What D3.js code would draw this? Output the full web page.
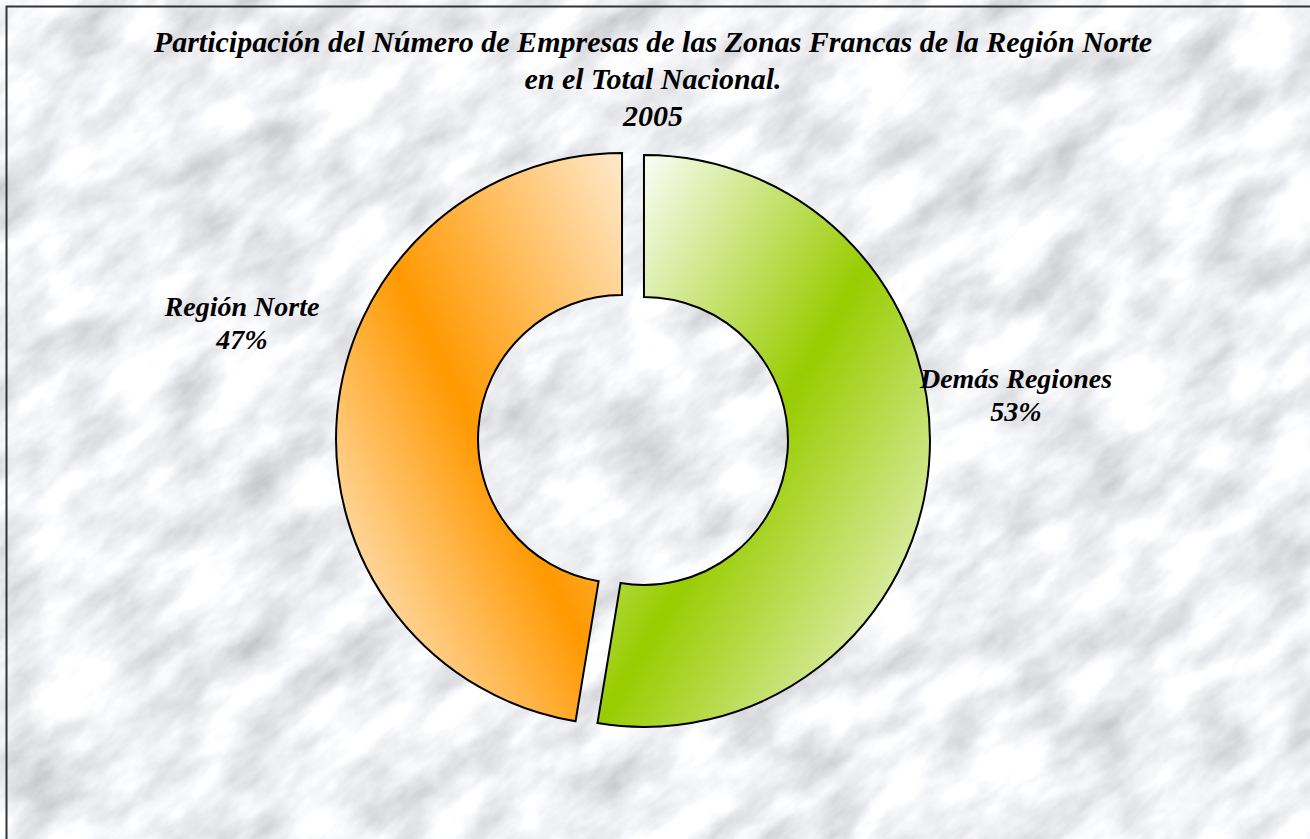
<!DOCTYPE html>
<html><head><meta charset="utf-8">
<script src="https://cdn.jsdelivr.net/npm/d3@7/dist/d3.min.js"></script>
<style>html,body{margin:0;padding:0;background:#fff;overflow:hidden}</style>
</head><body>
<script>
const categories = ["Demás Regiones", "Región Norte"];
const values = [52.6, 47.4];
const titleLines = ["Participación del Número de Empresas de las Zonas Francas de la Región Norte", "en el Total Nacional.", "2005"];
const baseColors = ["#99cc00", "#ff9900"];
const lightColors = ["#f9fcf3", "#ffe9cc"];

const W = 1310, H = 839;
const cx = 633, cy = 440, R = 286, r = 144, explode = 11;

const svg = d3.select("body").append("svg").attr("width", W).attr("height", H);
const defs = svg.append("defs");

// marble background
const f = defs.append("filter").attr("id", "marble")
  .attr("filterUnits", "userSpaceOnUse").attr("x", -600).attr("y", -800).attr("width", W + 1200).attr("height", H + 1600);
f.append("feTurbulence").attr("type", "fractalNoise").attr("baseFrequency", "0.012 0.026")
  .attr("numOctaves", 5).attr("seed", 3).attr("result", "n");
f.append("feColorMatrix").attr("type", "matrix")
  .attr("values", "0.75 0 0 0 0.5  0.75 0 0 0 0.505  0.75 0 0 0 0.53  0 0 0 0 1");
const bgG = svg.append("g").attr("transform", `rotate(-40 ${W/2} ${H/2})`);
bgG.append("rect").attr("x", -500).attr("y", -700).attr("width", W + 1000).attr("height", H + 1400)
  .attr("fill", "#e0e0e4").attr("filter", "url(#marble)");

// border
svg.append("path").attr("d", `M6.5,${H+5} V6.5 H${W+5}`).attr("fill", "none").attr("stroke", "#333").attr("stroke-width", 2);

// gradients
categories.forEach((c, i) => {
  const g = defs.append("linearGradient").attr("id", "grad" + i)
    .attr("x1", 0).attr("y1", i === 0 ? 0 : 1)
    .attr("x2", 1).attr("y2", i === 0 ? 1 : 0);
  g.append("stop").attr("offset", "0%").attr("stop-color", lightColors[i]);
  g.append("stop").attr("offset", "8%").attr("stop-color", lightColors[i]);
  g.append("stop").attr("offset", "50%").attr("stop-color", baseColors[i]);
  g.append("stop").attr("offset", "100%").attr("stop-color", lightColors[i]);
});

const pie = d3.pie().sort(null).value(d => d)(values);
const arc = d3.arc().innerRadius(r).outerRadius(R);
const chart = svg.append("g").attr("transform", `translate(${cx},${cy})`);
chart.selectAll("path.slice").data(pie).join("path").attr("class", "slice")
  .attr("transform", d => { const a = (d.startAngle + d.endAngle) / 2; return `translate(${explode*Math.sin(a)},${-explode*Math.cos(a)})`; })
  .attr("d", arc).attr("fill", (d, i) => `url(#grad${i})`)
  .attr("stroke", "#000").attr("stroke-width", 2).attr("stroke-linejoin", "miter");

// title
const font = "'Liberation Serif','Times New Roman',serif";
svg.append("g").selectAll("text").data(titleLines).join("text")
  .attr("x", 653).attr("y", (d, i) => 52 + i * 37).attr("text-anchor", "middle")
  .attr("font-family", font).attr("font-weight", "bold").attr("font-style", "italic")
  .attr("font-size", 30).attr("fill", "#000").text(d => d);

// labels
const labelPos = [[cx + R + 97, cy - 52], [cx - R - 105, cy - 124]];
pie.forEach((d, i) => {
  const t = svg.append("text").attr("text-anchor", "middle")
    .attr("font-family", font).attr("font-weight", "bold").attr("font-style", "italic")
    .attr("font-size", 28).attr("fill", "#000");
  t.append("tspan").attr("x", labelPos[i][0]).attr("y", labelPos[i][1]).text(categories[i]);
  t.append("tspan").attr("x", labelPos[i][0]).attr("y", labelPos[i][1] + 33).text(Math.round(d.value / d3.sum(values) * 100) + "%");
});
</script>
</body></html>
